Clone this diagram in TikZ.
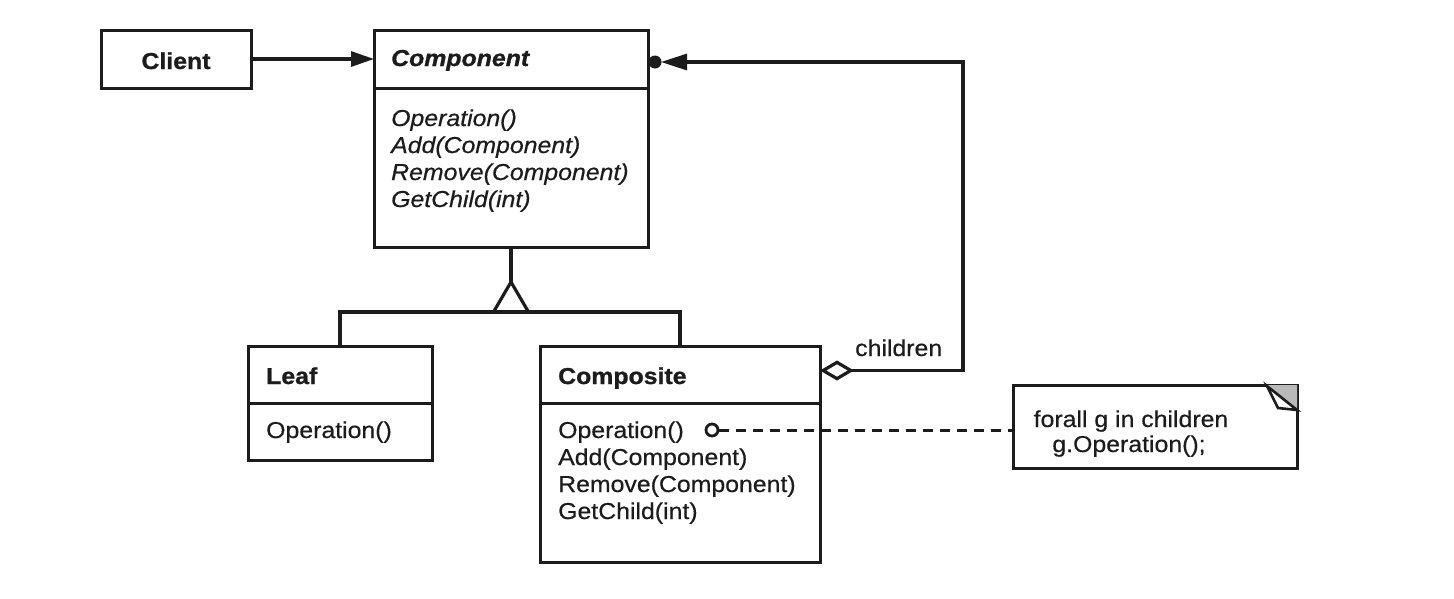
\documentclass[tikz,border=0pt]{standalone}
\usepackage{fontspec}
\setmainfont{Liberation Sans}[FakeStretch=1.08,
  UprightFeatures={FakeBold=0.5}, ItalicFeatures={FakeBold=0.5},
  BoldFeatures={FakeBold=1}, BoldItalicFeatures={FakeBold=1}]
\usetikzlibrary{arrows.meta,calc}
\definecolor{ink}{HTML}{1C1C1C}
\begin{document}
\begin{tikzpicture}[x=1pt,y=-1pt,
  box/.style={draw=ink, line width=3pt, anchor=north west, inner sep=0pt, outer sep=0pt},
  txt/.style={anchor=base west, inner sep=0pt, text=ink, font=\fontsize{23}{27}\selectfont},
  ttl/.style={txt, font=\fontsize{23}{27}\selectfont\bfseries},
  ital/.style={txt, font=\fontsize{23}{27}\selectfont\itshape},
  conn/.style={draw=ink, line width=3.2pt, line join=miter}
]
\useasboundingbox (0,0) rectangle (1454,598);
\fill[white] (0,0) rectangle (1454,598);

% Client
\node[box, minimum width=150pt, minimum height=58pt] (client) at (101,30) {};
\node[ttl, anchor=base] (clientT) at (176,69) {Client};

% Component
\node[box, minimum width=274pt, minimum height=58pt] (compH) at (374,30) {};
\node[box, minimum width=274pt, minimum height=159pt] (compB) at (374,88) {};
\node[ttl, font=\fontsize{23}{27}\selectfont\bfseries\itshape] (compT) at (391,66) {Component};
\node[ital] (cm1) at (391,126) {Operation()};
\node[ital] (cm2) at (391,153) {Add(Component)};
\node[ital] (cm3) at (391,180) {Remove(Component)};
\node[ital] (cm4) at (391,207) {GetChild(int)};

% Leaf
\node[box, minimum width=184pt, minimum height=57pt] (leafH) at (248,346) {};
\node[box, minimum width=184pt, minimum height=57pt] (leafB) at (248,403) {};
\node[ttl] (leafT) at (266,384) {Leaf};
\node[txt] (lm1) at (266,438) {Operation()};

% Composite
\node[box, minimum width=280pt, minimum height=57pt] (compoH) at (540,346) {};
\node[box, minimum width=280pt, minimum height=159pt] (compoB) at (540,403) {};
\node[ttl] (compoT) at (558,384) {Composite};
\node[txt] (om1) at (558,438) {Operation()};
\node[txt] (om2) at (558,465) {Add(Component)};
\node[txt] (om3) at (558,492) {Remove(Component)};
\node[txt] (om4) at (558,519) {GetChild(int)};

% Note
\node[anchor=north west, minimum width=284pt, minimum height=83pt, inner sep=0pt, outer sep=0pt] (note) at (1013,385) {};
\draw[conn, line width=3pt] (note.north west) rectangle (note.south east);
\fill[gray!55] ($(note.north east)+(-30,0)$) -- (note.north east) -- ($(note.north east)+(0,25)$) -- cycle;
\draw[conn, line width=2.6pt, fill=white] ($(note.north east)+(-30,1)$) -- ($(note.north east)+(-19,23)$) -- ($(note.north east)+(0,25)$) -- cycle;
\node[txt, anchor=base] (n1) at (1131,427) {forall g in children};
\node[txt, anchor=base] (n2) at (1129,452) {g.Operation();};

% Client -> Component
\draw[conn, -{Triangle[length=23pt,width=15pt]}] (client.east) -- (client.east -| compH.west);

% Inheritance
\coordinate (gb) at (511,312);
\coordinate (apex) at (511,282);
\draw[conn] (compB.south) -- (apex);
\draw[conn] ($(gb)+(-17.5,0)$) -- (apex) -- ($(gb)+(17.5,0)$);
\draw[conn] (leafH.north) |- (gb) -| (compoH.north);

% children aggregation
\coordinate (lc) at (963,62);
\coordinate (aggS) at ($(compoH.east)+(0,-4)$);
\coordinate (aggE) at ($(compH.east)+(0,3)$);
\draw[conn, {Diamond[open,fill=white,length=34pt,width=20pt]}-{Triangle[length=26pt,width=16pt]}, shorten >=13pt]
  (aggS) -- (aggS -| lc) -- (lc) -- (aggE);
\fill[ink] ($(aggE)+(7,0)$) circle (6.5pt);
\node[txt] (childL) at (855,356) {children};

% Operation note link
\node[circle, draw=ink, line width=2.8pt, fill=white, minimum size=12pt, inner sep=0pt] (oc) at (712,430) {};
\draw[conn, line width=3pt, dash pattern=on 10pt off 7pt] (oc.east) -- (oc.east -| note.west);
\end{tikzpicture}
\end{document}
